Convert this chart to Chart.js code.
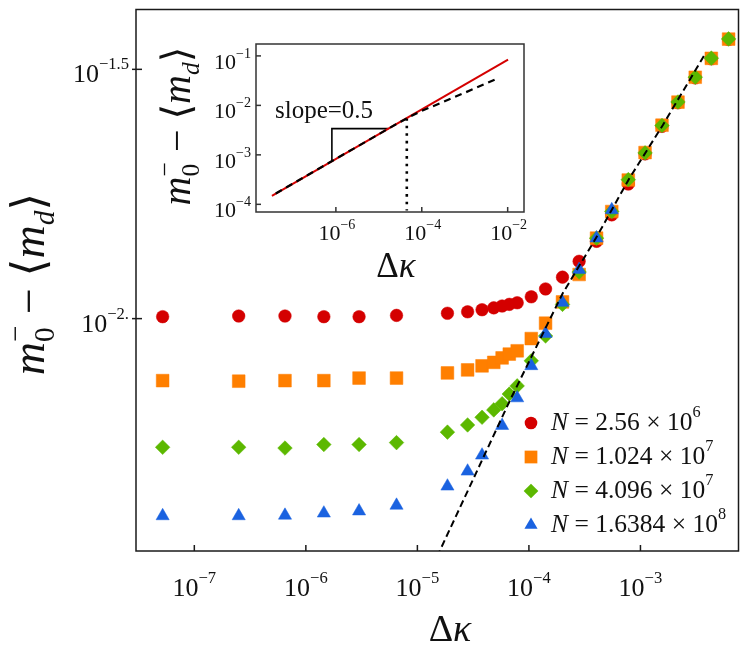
<!DOCTYPE html>
<html>
<head>
<meta charset="utf-8">
<script src="https://cdn.jsdelivr.net/npm/chart.js@4.4.0/dist/chart.umd.min.js"></script>
<style>
  html, body { margin: 0; padding: 0; background: #fff; }
  #wrap { position: relative; width: 748px; height: 648px; }
  #wrap canvas { position: absolute; left: 0; top: 0; }
</style>
</head>
<body>
<div id="wrap">
  <canvas id="main" width="748" height="648"></canvas>
  <canvas id="inset" width="748" height="648"></canvas>
</div>
<script>
(function () {
    "use strict";

    // Main panel: Δκ values (shared by all N)
    var dKappa = [5.2e-8, 2.5e-7, 6.5e-7, 1.45e-6, 3.0e-6, 6.5e-6,
        1.86e-5, 2.82e-5, 3.8e-5, 4.84e-5, 5.75e-5, 6.67e-5, 7.85e-5,
        1.05e-4, 1.41e-4, 2.0e-4, 2.82e-4, 4.04e-4, 5.53e-4, 7.78e-4,
        1.10e-3, 1.56e-3, 2.17e-3, 3.1e-3, 4.32e-3, 6.17e-3];

    // m0- - <md> for each system size
    var gapN1 = [0.01009, 0.01012, 0.01012, 0.01009, 0.01009, 0.01015,
        0.01025, 0.01032, 0.01042, 0.01051, 0.0106, 0.01068, 0.01076,
        0.01106, 0.01147, 0.01211, 0.01303, 0.01429, 0.01615, 0.01862,
        0.0214, 0.0243, 0.0271, 0.0304, 0.0332, 0.0363];
    var gapN2 = [0.00751, 0.00749, 0.00751, 0.00751, 0.0076, 0.0076,
        0.00778, 0.00789, 0.00804, 0.00817, 0.00834, 0.00849, 0.00862,
        0.00912, 0.00979, 0.0108, 0.01226, 0.0145, 0.0164, 0.01897,
        0.02153, 0.02443, 0.02718, 0.03049, 0.03327, 0.03636];
    var gapN3 = [0.00552, 0.00552, 0.0055, 0.00559, 0.00559, 0.00564,
        0.00592, 0.00612, 0.00634, 0.00656, 0.00675, 0.00706, 0.00733,
        0.00823, 0.00923, 0.01068, 0.0124, 0.0145, 0.0164, 0.0190,
        0.0215, 0.0244, 0.0272, 0.0305, 0.0333, 0.0364];
    var gapN4 = [0.00402, 0.00402, 0.00403, 0.00407, 0.00411, 0.00422,
        0.00461, 0.00494, 0.00532, null, 0.0061, null, 0.00693,
        0.00804, 0.00933, 0.01077, 0.01254, 0.0145, 0.01652, null,
        null, null, null, null, null, null];

    // dashed guide in main panel
    var fitX = [1.5e-5, 6.76e-5, 2.0e-4, 3.98e-4, 7.94e-4, 1.585e-3, 3.8e-3];
    var fitY = [0.00333, 0.006855, 0.01122, 0.01449, 0.0191, 0.02443, 0.03396];

    var sizeMant = ["2.56", "1.024", "4.096", "1.6384"];
    var sizeExp = ["6", "7", "7", "8"];

    var xTickExp = [-7, -6, -5, -4, -3];
    var xTickLabels = ["\u22127", "\u22126", "\u22125", "\u22124", "\u22123"];
    var yTickExp = [-1.5, -2];
    var yTickLabels = ["\u22121.5", "\u22122."];

    // Inset
    var lineX = [3.24e-8, 1.02e-2];
    var lineY = [1.49e-4, 0.0841];
    var dashX = [3.98e-8, 1e-5, 2.51e-5, 5.01e-5, 1e-4, 3.16e-4, 1e-3, 5.01e-3];
    var dashY = [1.656e-4, 2.624e-3, 4.159e-3, 5.754e-3, 7.762e-3, 1.175e-2, 1.799e-2, 3.311e-2];
    var triX = [8.07e-7, 8.07e-7, 1.67e-5];
    var triY = [7.45e-4, 3.39e-3, 3.39e-3];
    var dotX = [4.48e-5, 4.48e-5];
    var dotY = [5.55e-3, 7.5e-5];
    var insetXTickExp = [-6, -4, -2];
    var insetXTickLabels = ["\u22126", "\u22124", "\u22122"];
    var insetYTickExp = [-1, -2, -3, -4];
    var insetYTickLabels = ["\u22121", "\u22122", "\u22123", "\u22124"];

    var colors = ["#d40000", "#ff7f00", "#5cb800", "#1a62e0"];
    var styles = ["circle", "rect", "rectRot", "triangle"];
    var radii = [6.3, 9, 7.3, 7.6];

    var SERIF = '"Liberation Serif", "DejaVu Serif", serif';

    function partFont(p, size) {
        var s = p.pos ? size * 0.64 : size;
        return (p.it ? "italic " : "") + s.toFixed(1) + "px " + SERIF;
    }
    function partWidth(ctx, p, size) {
        ctx.font = partFont(p, size);
        var w = ctx.measureText(p.t).width;
        if (p.over) w = Math.max(w, ctx.measureText(p.over).width);
        return w;
    }
    function drawRich(ctx, parts, x, y, size, align) {
        var total = 0;
        parts.forEach(function (p) { total += partWidth(ctx, p, size); });
        var cx = align === "center" ? x - total / 2 : (align === "right" ? x - total : x);
        ctx.textAlign = "left";
        ctx.textBaseline = "alphabetic";
        parts.forEach(function (p) {
            var w = partWidth(ctx, p, size);
            var dy = p.pos === 1 ? -size * 0.5 : (p.pos === -1 ? size * 0.22 : 0);
            ctx.fillText(p.t, cx, y + dy);
            if (p.over) ctx.fillText(p.over, cx, y - size * 0.42);
            cx += w;
        });
    }
    function seg(ctx, x1, y1, x2, y2) {
        ctx.beginPath(); ctx.moveTo(x1, y1); ctx.lineTo(x2, y2); ctx.stroke();
    }
    function marker(ctx, style, r, x, y) {
        ctx.beginPath();
        if (style === "circle") {
            ctx.arc(x, y, r, 0, Math.PI * 2);
        } else if (style === "rect") {
            var s = r * Math.SQRT1_2;
            ctx.rect(x - s, y - s, 2 * s, 2 * s);
        } else if (style === "rectRot") {
            ctx.moveTo(x, y - r); ctx.lineTo(x + r, y); ctx.lineTo(x, y + r); ctx.lineTo(x - r, y);
            ctx.closePath();
        } else {
            ctx.moveTo(x, y - r);
            ctx.lineTo(x + r * Math.sin(2 * Math.PI / 3), y - r * Math.cos(2 * Math.PI / 3));
            ctx.lineTo(x + r * Math.sin(4 * Math.PI / 3), y - r * Math.cos(4 * Math.PI / 3));
            ctx.closePath();
        }
        ctx.fill();
    }

    var yTitle = [{ t: "m", it: 1 }, { t: "0", pos: -1, over: "\u2212" }, { t: " \u2212 \u27e8" },
        { t: "m", it: 1 }, { t: "d", it: 1, pos: -1 }, { t: "\u27e9" }];
    var xTitle = [{ t: "\u0394" }, { t: "\u03ba", it: 1 }];

    function pts(xs, ys) {
        var out = [];
        xs.forEach(function (x, i) { if (ys[i] !== null) out.push({ x: x, y: ys[i] }); });
        return out;
    }

    // Main chart
    var series = [gapN1, gapN2, gapN3, gapN4];
    var datasets = series.map(function (ys, i) {
        return {
            data: pts(dKappa, ys),
            showLine: false,
            pointStyle: styles[i],
            pointRadius: radii[i],
            pointBackgroundColor: colors[i],
            pointBorderColor: colors[i],
            pointBorderWidth: 0.5,
            order: 4 - i
        };
    });
    datasets.push({
        data: pts(fitX, fitY),
        showLine: true,
        pointRadius: 0,
        borderColor: "#000",
        borderWidth: 2,
        borderDash: [7, 4],
        order: 0
    });

    var mainDecor = {
        id: "mainDecor",
        afterDraw: function (chart) {
            var ctx = chart.ctx, a = chart.chartArea, sx = chart.scales.x, sy = chart.scales.y;
            ctx.save();
            ctx.strokeStyle = "#1a1a1a";
            ctx.lineWidth = 1.5;
            ctx.strokeRect(a.left, a.top, a.right - a.left, a.bottom - a.top);
            ctx.fillStyle = "#111";
            xTickExp.forEach(function (e, i) {
                var px = sx.getPixelForValue(Math.pow(10, e));
                seg(ctx, px, a.bottom, px, a.bottom - 6);
                drawRich(ctx, [{ t: "10" }, { t: xTickLabels[i], pos: 1 }], px, 596, 26, "center");
            });
            yTickExp.forEach(function (e, i) {
                var py = sy.getPixelForValue(Math.pow(10, e));
                seg(ctx, a.left - 4, py, a.left + 6, py);
                drawRich(ctx, [{ t: "10" }, { t: yTickLabels[i], pos: 1 }], 129, py + 13, 26, "right");
            });
            drawRich(ctx, xTitle, 450, 641, 38, "center");
            ctx.save();
            ctx.translate(44, 284);
            ctx.rotate(-Math.PI / 2);
            drawRich(ctx, yTitle, 0, 0, 46, "center");
            ctx.restore();
            // legend
            sizeMant.forEach(function (m, i) {
                var base = 430 + i * 34;
                ctx.fillStyle = colors[i];
                marker(ctx, styles[i], radii[i], 531, base - 7);
                ctx.fillStyle = "#111";
                drawRich(ctx, [{ t: "N", it: 1 }, { t: " = " + m + " \u00d7 10" }, { t: sizeExp[i], pos: 1 }],
                    551, base, 25.5, "left");
            });
            ctx.restore();
        }
    };

    new Chart(document.getElementById("main").getContext("2d"), {
        type: "scatter",
        data: { datasets: datasets },
        options: {
            responsive: false,
            animation: false,
            layout: { padding: { left: 136, top: 7, right: 8, bottom: 97 } },
            plugins: { legend: { display: false }, tooltip: { enabled: false } },
            scales: {
                x: { type: "logarithmic", display: false, min: 3.10e-8, max: 7.57e-3 },
                y: { type: "logarithmic", display: false, min: 0.003419, max: 0.04169 }
            }
        },
        plugins: [mainDecor]
    });

    // Inset chart
    var insetDecor = {
        id: "insetDecor",
        beforeDraw: function (chart) {
            var ctx = chart.ctx, a = chart.chartArea;
            ctx.save();
            ctx.fillStyle = "#fff";
            ctx.fillRect(a.left, a.top, a.right - a.left, a.bottom - a.top);
            ctx.restore();
        },
        afterDraw: function (chart) {
            var ctx = chart.ctx, a = chart.chartArea, sx = chart.scales.x, sy = chart.scales.y;
            ctx.save();
            ctx.strokeStyle = "#333";
            ctx.lineWidth = 1.5;
            ctx.strokeRect(a.left, a.top, a.right - a.left, a.bottom - a.top);
            ctx.fillStyle = "#111";
            insetXTickExp.forEach(function (e, i) {
                var px = sx.getPixelForValue(Math.pow(10, e));
                seg(ctx, px, a.bottom, px, a.bottom - 5);
                drawRich(ctx, [{ t: "10" }, { t: insetXTickLabels[i], pos: 1 }], px + 1, 240, 22, "center");
            });
            insetYTickExp.forEach(function (e, i) {
                var py = sy.getPixelForValue(Math.pow(10, e));
                seg(ctx, a.left, py, a.left + 5, py);
                drawRich(ctx, [{ t: "10" }, { t: insetYTickLabels[i], pos: 1 }], 251, py + 13, 22, "right");
            });
            ctx.font = "25px " + SERIF;
            ctx.textAlign = "left";
            ctx.fillText("slope=0.5", 275, 118);
            drawRich(ctx, xTitle, 396, 277, 35, "center");
            ctx.save();
            ctx.translate(190, 126);
            ctx.rotate(-Math.PI / 2);
            drawRich(ctx, yTitle, 0, 0, 40, "center");
            ctx.restore();
            ctx.restore();
        }
    };

    new Chart(document.getElementById("inset").getContext("2d"), {
        type: "scatter",
        data: {
            datasets: [
                { data: pts(dashX, dashY), showLine: true, pointRadius: 0, borderColor: "#000",
                  borderWidth: 2.2, borderDash: [7, 5], order: 0 },
                { data: pts(lineX, lineY), showLine: true, pointRadius: 0, borderColor: "#d40000",
                  borderWidth: 2, order: 1 },
                { data: pts(triX, triY), showLine: true, pointRadius: 0, borderColor: "#000",
                  borderWidth: 1.6, order: 2 },
                { data: pts(dotX, dotY), showLine: true, pointRadius: 0, borderColor: "#000",
                  borderWidth: 2.6, borderDash: [2.6, 5], order: 3 }
            ]
        },
        options: {
            responsive: false,
            animation: false,
            layout: { padding: { left: 256, top: 44, right: 224, bottom: 436 } },
            plugins: { legend: { display: false }, tooltip: { enabled: false } },
            scales: {
                x: { type: "logarithmic", display: false, min: 1.38e-8, max: 0.024 },
                y: { type: "logarithmic", display: false, min: 7.48e-5, max: 0.174 }
            }
        },
        plugins: [insetDecor]
    });
})();
</script>
</body>
</html>
